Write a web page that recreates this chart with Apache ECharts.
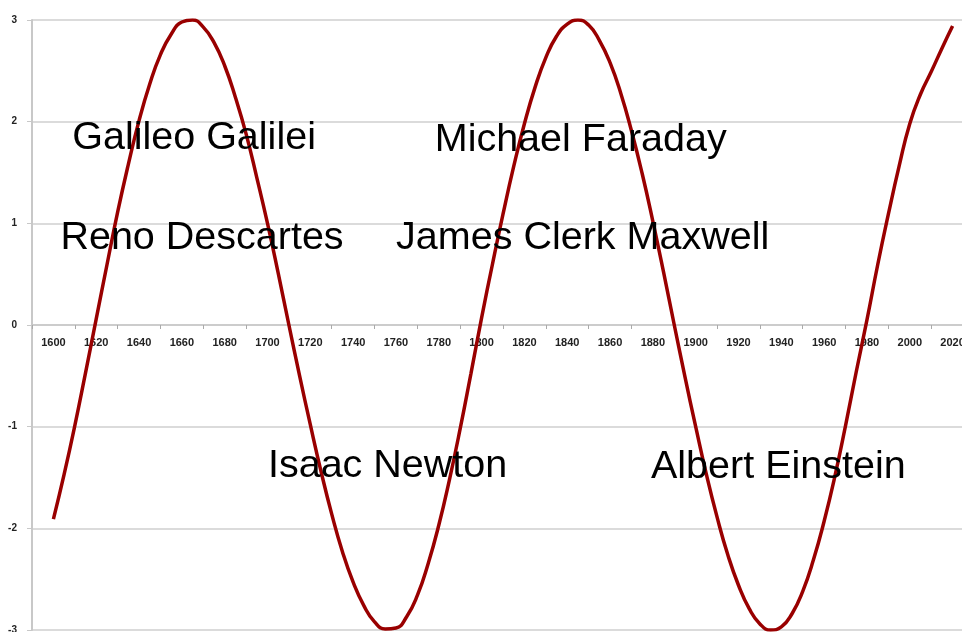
<!DOCTYPE html>
<html>
<head>
<meta charset="utf-8">
<script src="https://cdn.jsdelivr.net/npm/echarts@6/dist/echarts.min.js"></script>
<style>html,body{margin:0;padding:0;background:#fff;}#c{width:962px;height:632px;}</style>
</head>
<body>
<div id="c"></div>
<script>
// Tick labels of the category axis
const categories = ['1600','1620','1640','1660','1680','1700','1720','1740','1760','1780','1800','1820','1840','1860','1880','1900','1920','1940','1960','1980','2000','2020'];
// Curve: years and values (every 5 years)
const years = [1600,1605,1610,1615,1620,1625,1630,1635,1640,1645,1650,1655,1660,1665,1670,1675,1680,1685,1690,1695,
  1700,1705,1710,1715,1720,1725,1730,1735,1740,1745,1750,1755,1760,1765,1770,1775,1780,1785,1790,1795,
  1800,1805,1810,1815,1820,1825,1830,1835,1840,1845,1850,1855,1860,1865,1870,1875,1880,1885,1890,1895,
  1900,1905,1910,1915,1920,1925,1930,1935,1940,1945,1950,1955,1960,1965,1970,1975,1980,1985,1990,1995,
  2000,2005,2010,2015,2020];
const values = [-1.91,-1.47,-0.99,-0.47,0.06,0.59,1.11,1.58,2.01,2.37,2.66,2.86,2.98,3.0,2.93,2.78,2.55,2.24,1.88,1.45,
  1.0,0.51,0.0,-0.5,-0.98,-1.44,-1.86,-2.23,-2.53,-2.76,-2.92,-2.99,-2.98,-2.87,-2.66,-2.35,-1.97,-1.52,-1.02,-0.48,
  0.07,0.59,1.09,1.56,1.98,2.34,2.63,2.84,2.96,3.0,2.95,2.8,2.58,2.28,1.91,1.49,1.02,0.52,0.0,-0.51,
  -1.0,-1.47,-1.89,-2.26,-2.56,-2.79,-2.94,-3.0,-2.97,-2.84,-2.62,-2.31,-1.93,-1.49,-0.99,-0.46,0.05,0.59,1.09,1.56,
  1.98,2.27,2.49,2.72,2.94];
// Annotations
const names = ['Galileo Galilei','Reno Descartes','Michael Faraday','James Clerk Maxwell','Isaac Newton','Albert Einstein'];
const nameYears = [1665.7,1669.4,1846.3,1847.2,1756.1,1938.6];
const nameValues = [1.84,0.856,1.82,0.856,-1.39,-1.40];
const yTicks = {min:-3, max:3, interval:1};

const chart = echarts.init(document.getElementById('c'));
chart.setOption({
  animation:false,
  grid:{left:32,top:20,width:942,height:610,containLabel:false,outerBoundsMode:'none'},
  xAxis:[{
    type:'category', data:categories, boundaryGap:true, position:'bottom', offset:-305,
    axisLine:{onZero:false,lineStyle:{color:'#c8c8c8',width:1.5}},
    axisTick:{show:true,interval:0,length:4,lineStyle:{color:'#aaaaaa'}},
    axisLabel:{interval:0,margin:12,fontSize:11,fontWeight:'bold',color:'#222',fontFamily:'Liberation Sans'},
    splitLine:{show:false}
  },{
    type:'value', min:1590, max:2030, show:false, axisLine:{onZero:false}
  }],
  yAxis:{
    type:'value', min:yTicks.min, max:yTicks.max, interval:yTicks.interval,
    axisLine:{show:true,onZero:false,lineStyle:{color:'#c8c8c8',width:2}},
    axisTick:{show:true,length:5,lineStyle:{color:'#c8c8c8'}},
    axisLabel:{fontSize:10,fontWeight:'bold',color:'#222',margin:15,fontFamily:'Liberation Sans'},
    splitLine:{show:true,lineStyle:{color:'#cfcfcf',width:1.5}}
  },
  series:[{
    type:'line', xAxisIndex:1, smooth:true, symbol:'none',
    data:years.map((y,i)=>[y,values[i]]),
    lineStyle:{color:'#990000',width:3.5},
    clip:true, z:5
  },{
    type:'scatter', xAxisIndex:1, symbolSize:0, silent:true,
    itemStyle:{opacity:1},
    data:names.map((n,i)=>({name:n,value:[nameYears[i],nameValues[i]]})),
    label:{show:true,position:'inside',opacity:1,formatter:p=>p.name,fontSize:39.5,color:'#000000',textBorderWidth:0,fontFamily:'Liberation Sans'},
    z:10
  }]
});
</script>
</body>
</html>
